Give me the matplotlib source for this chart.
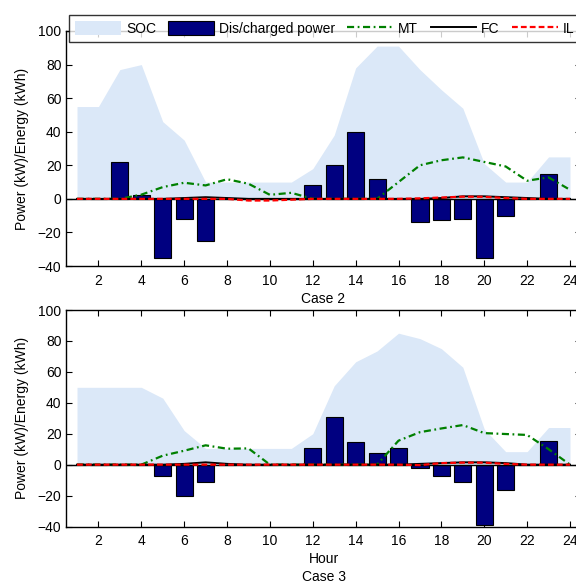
import matplotlib
matplotlib.use("Agg")
import matplotlib.pyplot as plt
import numpy as np

plt.rcParams['font.family'] = ['Liberation Sans', 'DejaVu Sans']
plt.rcParams['font.size'] = 10

hours = list(range(1, 25))
xticks = list(range(2, 25, 2))
yticks = list(range(-40, 101, 20))

# Case 2
soc2 = [55, 55, 77, 80, 46, 35, 10, 10, 10, 10, 10, 18, 38, 78, 91, 91, 77, 65, 54, 21, 10, 10, 25, 25]
bat2 = [0, 0, 22, 2.5, -35, -12, -25, 0, 0, 0, 0, 8, 20, 40, 12, 0, -14, -12.5, -12, -35.5, -10, 0, 15, 0]
mt2 = [0, 0, 0, 2.5, 7, 9.6, 8, 11.7, 9, 2.4, 3.6, 0, 0, 0, 0, 10, 20, 23, 24.7, 22, 19.3, 10.8, 12.8, 5.4]
fc2 = [0, 0, 0, 0, 0, 0.5, 1, 0.5, 0, 0, 0, 0, 0, 0, 0, 0, 0, 0.5, 1.5, 1.5, 1, 0.5, 0, 0]
il2 = [0, 0, 0, 0, 0, 0, 0, 0, -1, -1, -0.5, 0, 0, 0, 0, 0, 0.3, 0.8, 1.3, 1.2, 0.5, 0, 0, 0]

# Case 3
soc3 = [50, 50, 50, 50, 43, 22, 10.5, 10.5, 10.5, 10.5, 10.5, 20, 51, 66.5, 73.5, 85, 81.5, 75, 63, 23, 8.4, 8.4, 24, 24]
bat3 = [0, 0, 0, 0, -7.5, -20.6, -11.4, 0, 0, 0, 0, 10.5, 31, 14.8, 7.3, 11, -2.4, -7.5, -11.4, -39, -16.3, 0, 15.5, 0]
mt3 = [0, 0, 0, 0, 5.8, 9, 12.5, 10.3, 10.5, 0, 0, 0, 0, 0, 0, 15.5, 21, 23.4, 25.6, 20.4, 19.8, 19.2, 10, 0]
fc3 = [0, 0, 0, 0, 0, 0.5, 1.5, 0.5, 0, 0, 0, 0, 0, 0, 0, 0, 0.5, 1, 1.5, 1.5, 1, 0, 0, 0]
il3 = [0, 0, 0, 0, 0, 0, 0, 0, 0, 0, 0, 0, 0, 0, 0, 0, -0.3, 1, 1.3, 1.3, 0.5, 0, 0, 0]

W, H = 576, 586
fig = plt.figure(figsize=(W / 100, H / 100), dpi=100)

def make_ax(top_px, bot_px):
    left = 66.3 / W
    right = 580.7 / W
    return fig.add_axes([left, 1 - bot_px / H, right - left, (bot_px - top_px) / H])

ax1 = make_ax(31, 266)
ax2 = make_ax(310, 526.5)

def draw(ax, soc, bat, mt, fc, il):
    h_soc = ax.fill_between(hours, 0, soc, color='#dbe8f8', linewidth=0, zorder=1, label='SOC')
    h_bar = ax.bar(hours, bat, width=0.8, color='#000080', edgecolor='black', linewidth=0.8, zorder=2,
                   label='Dis/charged power')
    ax.axhline(0, color='black', linewidth=1.0, zorder=3)
    h_mt, = ax.plot(hours, mt, color='#008000', linewidth=1.6, zorder=4, label='MT',
                    dashes=(3.2, 1.6, 0.8, 1.6))
    h_fc, = ax.plot(hours, fc, color='black', linestyle='-', linewidth=1.4, zorder=5, label='FC')
    h_il, = ax.plot(hours, il, color='#ff0000', linewidth=1.6, zorder=6, label='IL',
                    dashes=(2.6, 1.4))
    ax.set_xlim(0.5, 24.5)
    ax.set_ylim(-40, 100)
    ax.set_xticks(xticks)
    ax.set_yticks(yticks)
    ax.tick_params(direction='in', top=True, right=True, length=4, width=0.8)
    ax.tick_params(axis='x', pad=5.5)
    ax.tick_params(axis='y', pad=3.5)
    for s in ax.spines.values():
        s.set_linewidth(1.0)
    ax.set_ylabel('Power (kW)/Energy (kWh)', labelpad=6)
    return [h_soc, h_bar, h_mt, h_fc, h_il]

handles = draw(ax1, soc2, bat2, mt2, fc2, il2)
draw(ax2, soc3, bat3, mt3, fc3, il3)

ax1.set_xlabel('Case 2', labelpad=3)
ax2.set_xlabel('Hour\nCase 3', labelpad=3, linespacing=1.3)

leg = fig.legend(handles, ['SOC', 'Dis/charged power', 'MT', 'FC', 'IL'],
                 loc='upper left', bbox_to_anchor=(69 / W, 1 - 15 / H), ncol=5,
                 frameon=True, fancybox=False, shadow=False, borderaxespad=0,
                 borderpad=0.45, handlelength=3.3, handleheight=1.15, handletextpad=0.36,
                 columnspacing=0.88, fontsize=10)
leg.get_frame().set_edgecolor('black')
leg.get_frame().set_linewidth(1.0)
leg.set_zorder(10)

fig.savefig('out.png', dpi=100)
